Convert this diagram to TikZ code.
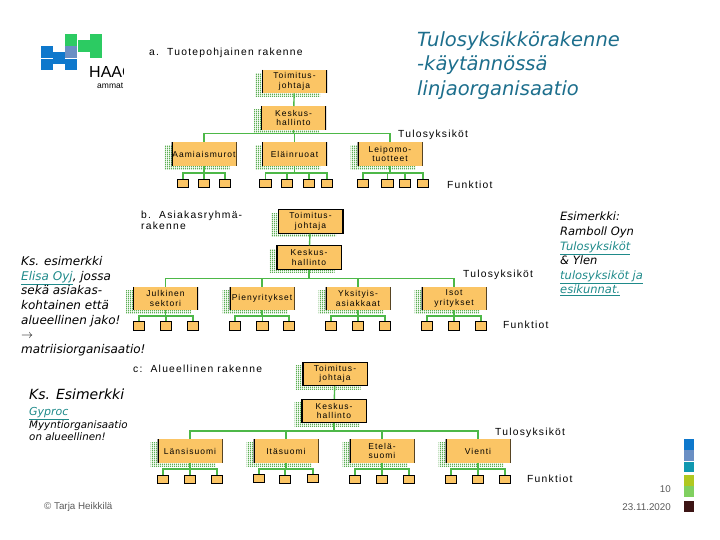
\documentclass[tikz,border=0pt]{standalone}
\usepackage{fontspec}
\setmainfont{Liberation Sans}
\newfontfamily\handfont{DejaVu Sans}
\newfontfamily\chartfont[LetterSpace=12]{Liberation Sans}
\usepackage{tikz}
\usetikzlibrary{patterns, shadows}
\definecolor{orgfill} {HTML}{FBC565}
\definecolor{orgline} {HTML}{4DB848}
\definecolor{orghatch}{HTML}{5BAE52}
\definecolor{heading} {HTML}{1C6E8C}
\definecolor{link}    {HTML}{1F8A8A}
\definecolor{muted}   {HTML}{5A5A5A}
\definecolor{logoblue}{HTML}{0E78CC}
\definecolor{logogreen}{HTML}{2CCB62}
\definecolor{logoslate}{HTML}{6A8FC4}
\pgfdeclarepatternformonly{finelines}{\pgfpointorigin}{\pgfqpoint{1.6pt}{1.6pt}}{\pgfqpoint{1.6pt}{1.6pt}}{%
  \pgfsetlinewidth{1.1pt}\pgfpathmoveto{\pgfqpoint{0.8pt}{0pt}}\pgfpathlineto{\pgfqpoint{0.8pt}{1.6pt}}\pgfusepath{stroke}}

\begin{document}
\begin{tikzpicture}[x=1pt, y=-1pt,
    orgbox/.style={fill=orgfill, minimum width=65pt, minimum height=23.5pt, inner sep=0pt, align=center,
      font=\chartfont\fontsize{8.5}{9.5}\selectfont,
      general shadow={shadow xshift=-7pt, shadow yshift=-3.5pt, pattern=finelines, pattern color=orghatch},
      path picture={\draw[line width=2pt] (path picture bounding box.north west) -- (path picture bounding box.south west)
        (path picture bounding box.north east) -- (path picture bounding box.south east);}},
    topbox/.style={orgbox, draw=black, line width=0.8pt},
    funcbox/.style={fill=orgfill, draw=black, line width=0.6pt, minimum width=11.5pt, minimum height=8.5pt, inner sep=0pt},
    bus/.style={draw=orgline, line width=1.4pt},
    chartlabel/.style={anchor=west, inner sep=0pt, align=left, font=\chartfont\fontsize{10.3}{9.5}\selectfont},
    handtext/.style args={#1/#2}{anchor=north west, inner sep=0pt, align=left, font=\handfont\itshape\fontsize{#1}{#2}\selectfont},
    sidebar/.style={minimum width=10pt, inner sep=0pt, anchor=north west}]
  \useasboundingbox (0,0) rectangle (720,540);

  % logo
  \foreach \name/\x/\y/\col in {l1/41/46/logoblue, l2/41/58.5/logoblue, l3/53/52/logoblue, l4/65/34/logogreen, l5/65/46/logoslate,
      l6/65/58.5/logoblue, l7/78/40/logogreen, l8/90/34/logogreen, l9/90/46/logogreen}
    \node[fill=\col, minimum width=11.5pt, minimum height=11.5pt, inner sep=0pt, anchor=north west] (\name) at (\x,\y) {};
  \begin{scope}
    \clip (80,60) rectangle (123,95);
    \node[anchor=west, inner sep=0pt, font=\fontsize{16}{16}\selectfont] (logoname) at (89,72) {HAAG};
    \node[anchor=west, inner sep=0pt, font=\fontsize{8.5}{8.5}\selectfont] (logosub) at (97,86) {ammat};
  \end{scope}

  % heading and side notes
  \node[handtext=19.5/24.5, text=heading] (title) at (417,31) {Tulosyksikkörakenne\\-käytännössä\\linjaorganisaatio};
  \node[handtext=12/14.7, text=black] (noteleft) at (21,256)
    {Ks. esimerkki\\\textcolor{link}{\underline{Elisa Oyj}}, jossa\\sekä asiakas-\\kohtainen että\\alueellinen jako!\\$\rightarrow$\\matriisiorganisaatio!};
  \node[handtext=14/15, text=black] (noteks) at (29,389) {Ks. Esimerkki};
  \node[handtext=11/12, text=link] (notegyproc) at (29,407) {\underline{Gyproc}};
  \node[handtext=10.3/12, text=black] (notemyynti) at (29,420) {Myyntiorganisaatio\\on alueellinen!};
  \node[handtext=11.5/14.6, text=black] (noteright) at (560,212)
    {Esimerkki:\\Ramboll Oyn\\\textcolor{link}{\underline{Tulosyksiköt}}\\\&\ Ylen\\\textcolor{link}{\underline{tulosyksiköt ja}}\\\textcolor{link}{\underline{esikunnat.}}};

  % a
  \node[chartlabel] (alabel) at (149,53) {a.\ \ Tuotepohjainen rakenne};
  \node[orgbox] (atop) at (294.5,81.5) {Toimitus-\\johtaja};
  \node[orgbox] (amid) at (293.5,118) {Keskus-\\hallinto};
  \node[orgbox] (aa) at (204,154) {Aamiaismurot};
  \node[orgbox] (ab) at (294.5,154) {Eläinruoat};
  \node[orgbox] (ac) at (390,154) {Leipomo-\\tuotteet};
  \node[chartlabel] (atulos) at (398,135) {Tulosyksiköt};
  \node[chartlabel] (afunk) at (447,185) {Funktiot};
  \foreach \name/\x in {aa1/183, aa2/204, aa3/225, ab1/265.5, ab2/287, ab3/309, ab4/327, ac1/363, ac2/387.5, ac3/405, ac4/423}
    \node[funcbox] (\name) at (\x,183.5) {};
  \draw[bus] (atop) -- (amid);
  \foreach \kid in {aa, ab, ac} \draw[bus] (amid.south) -- ++(0,3.5) -| (\kid.north);
  \foreach \kid in {aa1, aa2, aa3} \draw[bus] (aa.south) -- ++(0,7) -| (\kid.north);
  \foreach \kid in {ab1, ab2, ab3, ab4} \draw[bus] (ab.south) -- ++(0,7) -| (\kid.north);
  \foreach \kid in {ac1, ac2, ac3, ac4} \draw[bus] (ac.south) -- ++(0,7) -| (\kid.north);

  % b
  \node[chartlabel] (blabel) at (141,220.5) {b.\ \ Asiakasryhmä-\\rakenne};
  \node[topbox] (btop) at (310.5,221.5) {Toimitus-\\johtaja};
  \node[topbox] (bmid) at (309,257.5) {Keskus-\\hallinto};
  \node[orgbox] (ba) at (165.5,298.5) {Julkinen\\sektori};
  \node[orgbox] (bb) at (262,298.5) {Pienyritykset};
  \node[orgbox] (bc) at (358,298.5) {Yksityis-\\asiakkaat};
  \node[orgbox] (bd) at (454,298.5) {Isot\\yritykset};
  \node[chartlabel] (btulos) at (463,275) {Tulosyksiköt};
  \node[chartlabel] (bfunk) at (503,325) {Funktiot};
  \foreach \name/\x in {ba1/139, ba2/166, ba3/193, bb1/235, bb2/262.5, bb3/289, bc1/331, bc2/358, bc3/385, bd1/427, bd2/454, bd3/481}
    \node[funcbox] (\name) at (\x,326) {};
  \draw[bus] (btop) -- (bmid);
  \foreach \kid in {ba, bb, bc, bd} \draw[bus] (bmid.south) -- ++(0,9) -| (\kid.north);
  \foreach \kid in {ba1, ba2, ba3} \draw[bus] (ba.south) -- ++(0,5.5) -| (\kid.north);
  \foreach \kid in {bb1, bb2, bb3} \draw[bus] (bb.south) -- ++(0,5.5) -| (\kid.north);
  \foreach \kid in {bc1, bc2, bc3} \draw[bus] (bc.south) -- ++(0,5.5) -| (\kid.north);
  \foreach \kid in {bd1, bd2, bd3} \draw[bus] (bd.south) -- ++(0,5.5) -| (\kid.north);

  % c
  \node[chartlabel] (clabel) at (133,368.5) {c:\ \ Alueellinen rakenne};
  \node[topbox] (ctop) at (335,374) {Toimitus-\\johtaja};
  \node[topbox] (cmid) at (334,411) {Keskus-\\hallinto};
  \node[orgbox] (ca) at (190,451) {Länsisuomi};
  \node[orgbox] (cb) at (286,451) {Itäsuomi};
  \node[orgbox] (cc) at (382,451) {Etelä-\\suomi};
  \node[orgbox] (cd) at (478,451) {Vienti};
  \node[chartlabel] (ctulos) at (495,433) {Tulosyksiköt};
  \node[chartlabel] (cfunk) at (527,479) {Funktiot};
  \foreach \name/\x/\y in {ca1/163/479.5, ca2/190/479.5, ca3/217/479.5, cb1/259/478.5, cb2/285/479.5, cb3/313/478.5,
      cc1/355/479.5, cc2/382/479.5, cc3/409/479.5, cd1/451/479.5, cd2/478/479.5, cd3/505/479.5}
    \node[funcbox] (\name) at (\x,\y) {};
  \draw[bus] (ctop) -- (cmid);
  \foreach \kid in {ca, cb, cc, cd} \draw[bus] (cmid.south) -- ++(0,8) -| (\kid.north);
  \foreach \kid in {ca1, ca2, ca3} \draw[bus] (ca.south) -- ++(0,6) -| (\kid.north);
  \foreach \kid in {cb1, cb2, cb3} \draw[bus] (cb.south) -- ++(0,6) -| (\kid.north);
  \foreach \kid in {cc1, cc2, cc3} \draw[bus] (cc.south) -- ++(0,6) -| (\kid.north);
  \foreach \kid in {cd1, cd2, cd3} \draw[bus] (cd.south) -- ++(0,6) -| (\kid.north);

  % footer
  \node[anchor=west, inner sep=0pt, text=muted, font=\fontsize{9.8}{9.8}\selectfont] (author) at (44,507) {© Tarja Heikkilä};
  \node[anchor=east, inner sep=0pt, text=muted, font=\fontsize{9.8}{9.8}\selectfont] (pageno) at (671,489) {10};
  \node[anchor=east, inner sep=0pt, text=muted, font=\fontsize{9.8}{9.8}\selectfont] (date) at (671,507) {23.11.2020};
  \node[sidebar, fill=logoblue, minimum height=11pt] (bar1) at (684,439) {};
  \node[sidebar, fill=logoslate, minimum height=11pt] (bar2) at (684,450) {};
  \node[sidebar, fill={rgb,255:red,16;green,152;blue,176}, minimum height=10pt] (bar3) at (684,462) {};
  \node[sidebar, fill={rgb,255:red,176;green,200;blue,32}, minimum height=11pt] (bar4) at (684,475) {};
  \node[sidebar, fill={rgb,255:red,128;green,208;blue,96}, minimum height=11pt] (bar5) at (684,486) {};
  \node[sidebar, fill={rgb,255:red,60;green,20;blue,20}, minimum height=11pt] (bar6) at (684,501) {};
\end{tikzpicture}
\end{document}
